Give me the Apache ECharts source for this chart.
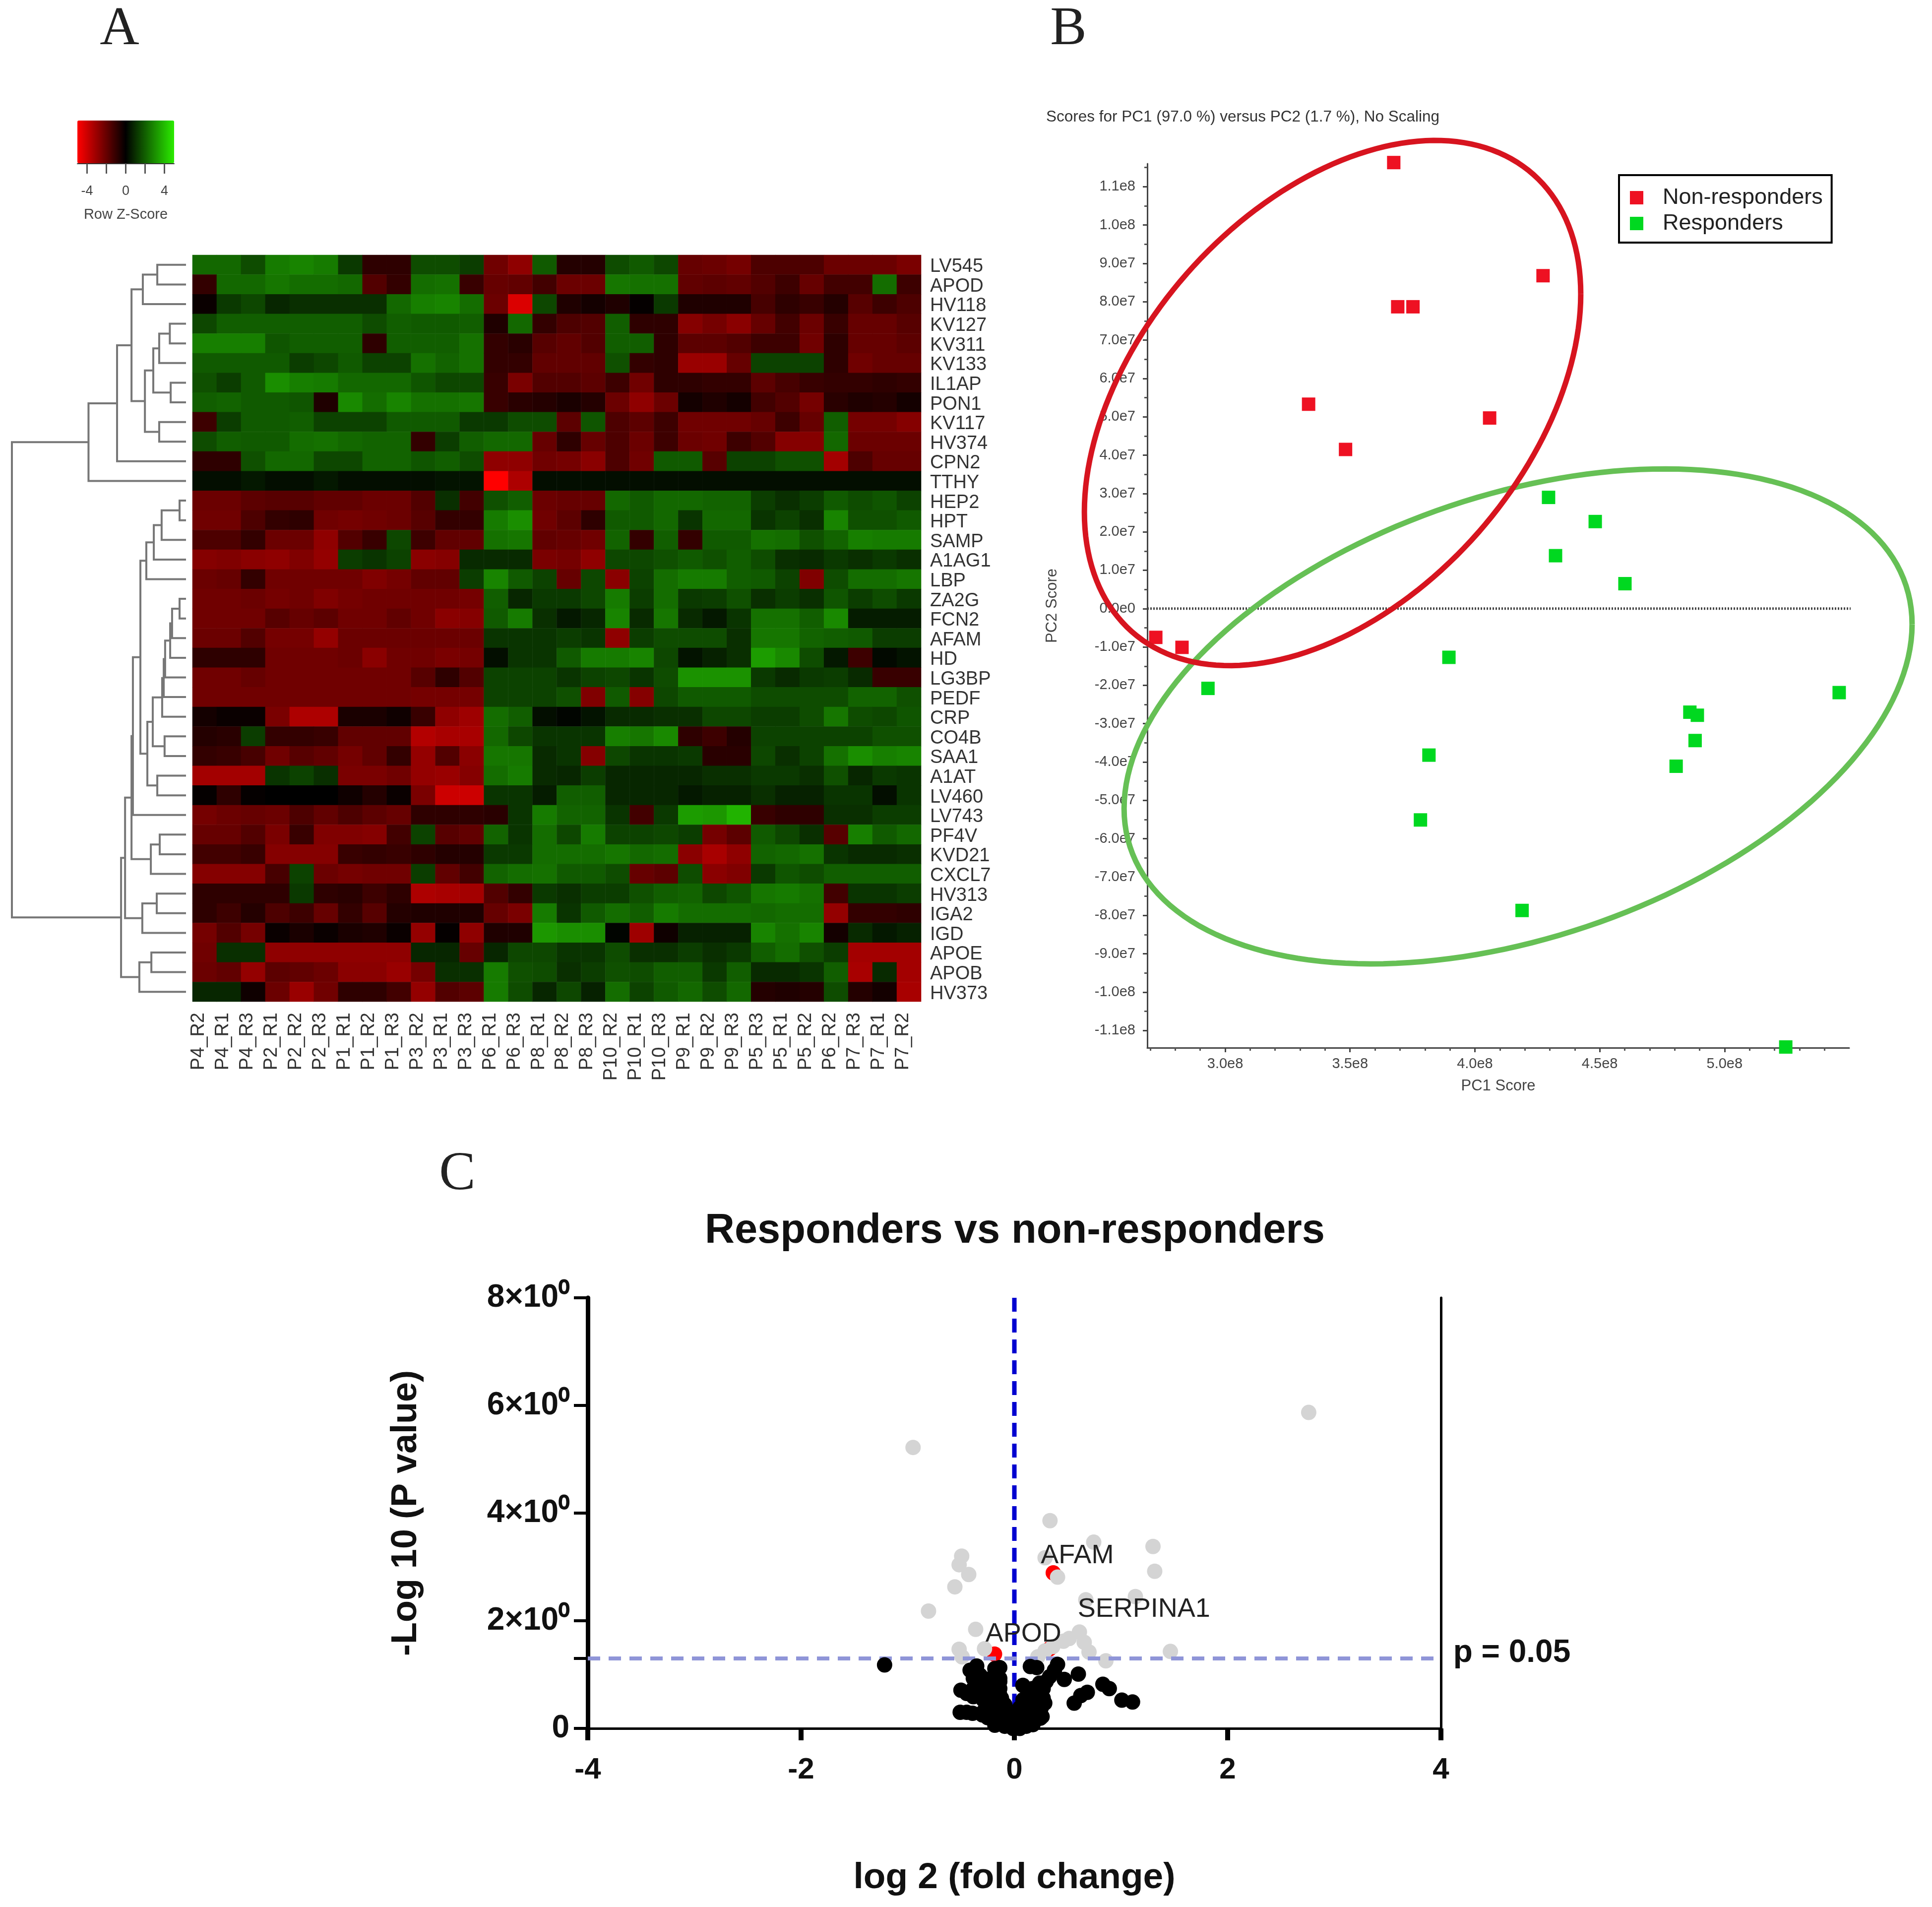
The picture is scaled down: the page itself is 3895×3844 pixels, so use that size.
<!DOCTYPE html>
<html>
<head>
<meta charset="utf-8">
<style>
  html, body { margin: 0; background: #fff; }
  #main { width: 3895px; height: 3844px; }
</style>
<script src="https://cdn.jsdelivr.net/npm/echarts@6/dist/echarts.min.js"></script>
</head>
<body>
<div id="main"></div>
<script>
// panel A
const samples = ["P4_R2","P4_R1","P4_R3","P2_R1","P2_R2","P2_R3","P1_R1","P1_R2","P1_R3","P3_R2","P3_R1","P3_R3","P6_R1","P6_R3","P8_R1","P8_R2","P8_R3","P10_R2","P10_R1","P10_R3","P9_R1","P9_R2","P9_R3","P5_R3","P5_R1","P5_R2","P6_R2","P7_R3","P7_R1","P7_R2"];
const proteins = ["LV545","APOD","HV118","KV127","KV311","KV133","IL1AP","PON1","KV117","HV374","CPN2","TTHY","HEP2","HPT","SAMP","A1AG1","LBP","ZA2G","FCN2","AFAM","HD","LG3BP","PEDF","CRP","CO4B","SAA1","A1AT","LV460","LV743","PF4V","KVD21","CXCL7","HV313","IGA2","IGD","APOE","APOB","HV373"];
const zScores = [
  [2.2,2.2,1.6,2.6,2.8,2.6,1.2,-.9,-.9,1.6,1.6,1.3,-2.2,-2.8,1.9,-.7,-.7,1.6,1.9,1.5,-2,-2.1,-2.3,-1.5,-1.5,-1.5,-2.1,-2.1,-2.1,-2.4],
  [-1,2.2,2.2,2.5,2.3,2.3,2.2,-1.6,-1,2.3,2.4,-1.1,-2,-1.9,-1.3,-2.1,-2.1,2.5,2.4,2.4,-1.9,-1.8,-1.9,-1.6,-1.2,-2,-1.3,-1.3,2.3,-1.2],
  [-.2,1.2,1.5,.8,1,1,1,1,2.2,2.7,2.8,2.3,-2.1,-4.3,1.5,-.6,-.4,-.6,-.1,1.2,-.6,-.6,-.6,-1.4,-.9,-1.1,-.7,-1.7,-1.2,-1.5],
  [1.5,2,2,2,2,2,2,1.6,2,1.9,1.9,2,-.6,2.2,-1,-1.5,-1.6,2,-.9,-.9,-2.6,-2.3,-2.7,-2,-1.3,-2.1,-1.1,-2,-2,-1.7],
  [2.7,2.7,2.7,1.8,2,2,2,-.9,2,2,2,2.4,-1,-.8,-1.7,-1.9,-1.6,2,2,-.9,-1.8,-1.8,-1.6,-1.2,-1.2,-2.2,-.9,-2,-2,-1.8],
  [1.9,1.9,1.9,1.9,1.3,1.5,1.9,1.4,1.4,2.4,2.1,2.4,-1,-1,-1.9,-1.9,-1.9,1.7,-1,-.9,-3,-3,-2,1.4,1.4,1.4,-.9,-2.2,-2,-2],
  [1.7,1.3,1.9,3,2.7,2.6,2.2,2.2,2.2,1.8,1.5,1.5,-1.1,-2.4,-1.6,-1.6,-1.8,-1.2,-2.2,-.9,-.9,-1,-1,-1.8,-1.4,-1.1,-1,-1,-.9,-1],
  [2,2.1,1.9,1.9,1.8,-.6,2.9,2.3,2.8,2.4,2.4,2.5,-1.1,-.8,-.7,-.5,-.7,-2.1,-2.8,-2.1,-.4,-.6,-.4,-1.3,-1.6,-2.3,-.8,-.6,-.7,-.4],
  [-1.2,1.3,1.9,1.9,2,1.4,1.4,1.4,1.9,1.9,1.9,1.2,1.2,1.6,1.6,-1.8,1.8,-1.5,-1.8,-1.2,-2.2,-2.2,-2.2,-2,-1.2,-2,2,-2.3,-2.3,-2.6],
  [1.6,2,1.9,1.9,2.3,2.4,2.2,2.1,2.1,-1,1.3,2,2.2,2.2,-2,-.9,-2,-1.5,-2.1,-1.2,-2.1,-2.2,-1.2,-1.6,-2.6,-2.6,2.2,-2.1,-2.1,-2.1],
  [-.9,-.9,1.7,2.2,2.2,1.5,1.5,2.1,2.1,1.8,2,1.6,-2.8,-2.8,-2.2,-2.3,-2.7,-1.5,-2.2,1.9,1.9,-1.7,1.4,1.4,1.7,1.7,-3.2,-1.5,-2,-2],
  [.3,.3,.5,.3,.3,.5,.3,.3,.3,.3,.4,.4,-5,-3.4,.3,.3,.3,.3,.3,.3,.3,.3,.3,.3,.3,.3,.3,.3,.3,.3],
  [-2.1,-2.1,-1.8,-1.7,-1.7,-1.9,-1.9,-2.1,-2.1,-1.6,1,-1.3,1.7,2,-2.1,-2,-2,2.2,1.9,2.2,2.2,2.1,2.1,1.3,1,1.3,1.9,1.6,1.8,1.4],
  [-2.2,-2.2,-1.5,-1,-.9,-2.2,-2.3,-2.2,-2.1,-1.7,-1,-1,2.6,3,-2.2,-1.8,-.9,1.9,1.9,2.2,1.1,2.2,2.2,1.1,1.4,1,2.8,1.7,1.7,1.9],
  [-1.5,-1.5,-1,-2.1,-2.1,-2.8,-1.6,-1.1,1.5,-1.2,-1.9,-1.9,2.4,2.5,-1.9,-2,-2.2,2.1,-1,2,-1,1.9,1.9,2.4,2.3,1.7,2.1,2.7,2.6,2.6],
  [-2.6,-2.5,-2.7,-2.8,-2.5,-2.9,1.3,1.1,1.4,-2.7,-2.6,.9,.9,.9,-2.4,-2.3,-2.8,1.5,1.5,1.7,1.9,1.7,2,1.6,1,.9,1.2,1,1.2,1],
  [-2.1,-2,-1,-2.2,-2.2,-2.2,-2.2,-2.5,-2.3,-1.9,-1.9,1.3,2.8,1.9,1.4,-2,1.5,-2.7,1.4,2.3,2.6,2.6,2,1.9,1.4,-2.5,1.6,2.3,2.3,2.5],
  [-2.2,-2.2,-2.1,-2.3,-2.2,-2.5,-2.3,-2.2,-2.2,-2.2,-2.2,-2.3,2,.8,1.2,1.2,1.5,2.6,1.3,2.3,1.2,1.3,1.7,1,1.3,1,1.8,1.3,1.6,1.2],
  [-2.2,-2.2,-2.2,-1.7,-2,-1.8,-2.2,-2.2,-1.9,-2.2,-2.7,-2.6,1.9,2.6,1,.5,.8,2.8,.9,2.5,.9,.5,1.1,2.4,2.4,2,2.9,.6,.6,.6],
  [-2.1,-2.1,-1.6,-2.3,-2.3,-2.9,-2.1,-2.1,-2.1,-2.1,-2.1,-2.1,1.1,1.1,1.1,1.3,1.1,-2.8,1.3,1.6,1.6,1.6,1,2.5,2.5,2.1,2,1.9,1.3,1.3],
  [-.9,-.9,-.9,-2.2,-2.2,-2.2,-2.1,-2.7,-2.2,-2.2,-2.4,-2.3,.3,1.1,1.1,1.9,2.6,2.6,2.8,1.5,.4,.7,1,3.3,2.9,1.6,.5,-1.2,.2,.4],
  [-2.2,-2.2,-2,-2.2,-2.2,-2.2,-2.2,-2.2,-2.2,-1.7,-.9,-1.6,1.4,1.4,1.4,1.1,1.4,1.5,1.1,1.6,3.1,3.1,3.1,1.2,.9,1.2,1.3,.9,-1.1,-1.1],
  [-2.2,-2.2,-2.2,-2.2,-2.2,-2.2,-2.2,-2.2,-2.2,-2.3,-2.3,-2.3,1.4,1.4,1.4,1.7,-2.5,1.9,-2.6,1.5,1.9,1.9,1.9,1.6,1.6,1.6,1.6,2.1,2.1,1.7],
  [-.4,-.2,-.2,-2.4,-3.4,-3.4,-.5,-.5,-.3,-1.1,-2.8,-3.1,2.3,2,.3,.1,.4,.9,.9,1,1,1.5,1.5,1.3,1.3,1.6,2.5,1.6,1.5,1.8],
  [-.7,-.8,1.3,-1,-1,-1.1,-1.9,-1.9,-1.9,-3.5,-3.3,-3.3,2.2,1.5,1.1,1.1,1.1,2.7,2.5,2.9,-.9,-1.2,-.7,1.4,1.4,1.4,1.4,1.4,1.7,1.7],
  [-1,-1.1,-1.4,-2.2,-1.7,-1.9,-2.3,-1.9,-1,-2.9,-1.6,-2.7,2.5,2.5,.9,1.1,-2.6,1.5,1.1,1.1,1.2,-.8,-.8,1.5,1,1.4,2.4,3,2.7,2.8],
  [-3.2,-3.2,-3.2,1.1,1.4,1,-2.4,-2.4,-2.2,-2.9,-3,-2.6,2.3,2.6,.9,.8,1.3,.8,.8,.8,.8,1,1,1.2,1.2,1,1.7,.8,1.2,1.1],
  [-.1,-.9,-.1,0,0,0,-.3,-.7,-.2,-2.4,-4,-4,1.1,1.1,.6,2,2,.8,.8,.8,.5,.7,.7,1,.7,.7,1.1,1.1,.3,1.1],
  [-2.3,-2.1,-2,-2.1,-1.5,-1.9,-1.5,-1.8,-2,-.9,-.9,-.9,-.8,1.1,2.6,2.1,2.1,1.1,-1.3,1.2,3.3,3.2,3.8,-1.1,-.9,-.9,1,1,1.3,1.3],
  [-2,-2,-1.6,-2.4,-1.1,-2.5,-2.5,-2.6,-1.3,1.4,-1.7,-1.9,2.1,1.1,2.3,1.5,2.6,1.4,1.4,1.5,1.3,-2.3,-1.8,1.9,1.5,1,-1.7,2.7,1.9,2.2],
  [-1.3,-1.3,-1.1,-2.6,-2.6,-2.6,-1.1,-1,-1.1,-.9,-.7,-.7,1.2,1.2,2.3,2.3,2.3,2.5,2.2,2.3,-2.7,-3.3,-2.8,2.1,2.2,2.4,1.1,.9,.9,1],
  [-2.6,-2.6,-2.6,-1.4,1.4,-2.1,-2.3,-2.2,-2.2,1.3,-1.9,-1.3,2.1,2.3,2.4,1.9,1.9,1.6,-2,-1.8,1.6,-2.7,-2.5,1.2,1.8,1.6,2,2,2,2],
  [-.9,-.9,-.9,-.9,1.2,-.9,-.8,-1.2,-.9,-3.4,-3.3,-3.2,-1.6,-1,1.2,1,1.3,1.3,1.7,2,2.1,1.5,1.8,2.5,2.6,2.4,-1.3,1.1,1.1,1.3],
  [-.9,-1.2,-.7,-1.5,-1.2,-2,-1,-1.7,-.7,-.6,-.6,-.6,-2,-2.4,2.6,1.1,1.9,2.3,2,2.6,2.3,2.3,2.3,2.2,2.3,2.3,-2.9,-1,-1,-.9],
  [-2.3,-1.6,-2.3,-.2,-.5,-.2,-.5,-.6,-.2,-2.9,-.1,-2.8,-.6,-.6,3.2,3,3,.1,-3.1,-.3,.7,.7,.7,2.8,2.4,2.8,-.4,.9,.5,.7],
  [-2.2,1,1,-2.8,-2.8,-2.8,-2.8,-2.8,-2.8,.8,.8,-2,.8,1.5,1.5,1.1,1.1,1.6,1,1,1.3,1,1.2,2,2.3,1.7,1.3,-3.2,-3.2,-3.2],
  [-2.1,-1.9,-2.9,-1.8,-1.9,-2.1,-2.7,-2.7,-3,-2.3,1,1,2.6,1.7,1.6,1,1.3,1.7,1.6,2,2,1.2,2,.9,.9,1.1,2,-3.3,.9,-3.2],
  [.8,.8,-.3,-2.1,-3,-2.2,-.9,-.9,-1.3,-2.9,-1.6,-1.8,2.6,1.6,.8,1.5,.7,2.3,1.4,1.9,2.2,1.6,2.2,-.7,-.6,-.7,1.6,-.7,-.4,-3.3]
];
// [childA, childB, height]; a child >= 0 is a row, "m3" is an earlier merge
const merges = [
  [0,1,16.5],["m0",2,24.8],[3,4,9.3],["m2",5,15.4],[6,7,8.8],["m3","m4",18.8],[8,9,15.4],["m5","m6",23.6],["m1","m7",31.3],["m8",10,39.6],["m9",11,56],
  [12,13,3.7],["m11",14,14],["m12",15,18.5],["m13",16,22.8],
  [17,18,3.7],["m15",19,8],["m16",20,9.1],["m17",21,12],["m18",22,12.8],["m19",23,13.7],[24,25,12.3],["m20","m21",19.1],[26,27,16.5],["m22","m23",22.2],
  ["m14","m24",26.2],["m25",28,30.5],[29,30,15.1],["m27",31,20.2],["m26","m28",31.3],[32,33,16.8],["m30",34,25.1],["m29","m31",35],[35,36,19.9],["m33",37,26.8],["m32","m34",37.3],["m10","m35",100]
];
const zScaleTicks = [-4, -2, 0, 2, 4];
const zScaleLabels = [-4, 0, 4];

// panel B
const nonResponders = [[367.5e6,11.63e7],[427.3e6,8.68e7],[369.1e6,7.87e7],[375.2e6,7.87e7],[333.4e6,5.33e7],[405.9e6,4.97e7],[348.2e6,4.15e7],[272.2e6,-0.75e7],[282.7e6,-1.01e7]];
const responders = [[429.5e6,2.9e7],[448.2e6,2.27e7],[432.3e6,1.38e7],[460.1e6,0.65e7],[389.6e6,-1.27e7],[293.1e6,-2.08e7],[545.9e6,-2.19e7],[486.1e6,-2.7e7],[489.1e6,-2.78e7],[488.2e6,-3.44e7],[381.6e6,-3.82e7],[480.6e6,-4.11e7],[378.2e6,-5.51e7],[418.9e6,-7.87e7],[524.5e6,-11.43e7]];
const pc1Ticks = [3e8, 3.5e8, 4e8, 4.5e8, 5e8];
const pc2Ticks = [11e7,10e7,9e7,8e7,7e7,6e7,5e7,4e7,3e7,2e7,1e7,0,-1e7,-2e7,-3e7,-4e7,-5e7,-6e7,-7e7,-8e7,-9e7,-10e7,-11e7];
const pc1Minor = [2.7e8,2.8e8,2.9e8,3.1e8,3.2e8,3.3e8,3.4e8,3.6e8,3.7e8,3.8e8,3.9e8,4.1e8,4.2e8,4.3e8,4.4e8,4.6e8,4.7e8,4.8e8,4.9e8,5.1e8,5.2e8,5.3e8,5.4e8];
const pc2Minor = pc2Ticks.map(v => v + 0.5e7);
const zeroLine = [[268.8e6, 0], [564.2e6, 0]];
// hand drawn rings: centre and two conjugate half axes, in score units
const rings = [
  { color: "#66c055", c: [417.3e6, -2.81e7], a: [157.8e6, 2.4e7], b: [0, 5.99e7] },
  { color: "#d7141f", c: [343e6, 5.36e7], a: [99.4e6, 2.84e7], b: [0, 6.23e7] }
];

// panel C
const notSignificantBelow = [[-1.217,1.18],[.15,1.15],[.21,1.13],[.405,1.19],[.6,1.01],[.468,.91],[.83,.82],[.89,.74],[.561,.47],[.623,.61],[.684,.67],[1.008,.525],[1.108,.49],
  [-.415,1.08],[-.353,1.16],[-.323,.99],[-.385,.93],[-.183,1.11],[-.137,1.13],[-.214,.93],[-.137,.93],[-.229,.74],[-.137,.74],[-.291,.74],[-.501,.71],[-.447,.65],[-.385,.59],[-.291,.53],[-.198,.56],[-.121,.56],[-.261,.38],[-.183,.38],[-.09,.44],[-.508,.3],[-.392,.28],[-.447,.3],[-.198,.16],[-.137,.13],[-.183,.06],[-.06,.25],[0,.07],[0,0],[-.1,.06],[-.05,.12],[-.25,.2],[-.3,.25],
  [.08,.8],[.17,.74],[.11,.46],[.27,.56],[.27,.74],[.33,.96],[.376,1.08],[.285,.47],[.17,.31],[.09,.16],[.2,.16],[.05,.37],[.14,.56],[.236,.31],[.1,.07],[.05,.03],[.16,.09],[.26,.22],
  [-.323,.87],[-.385,.74],[-.291,.93],[-.353,.93],[-.261,.81],[-.198,.74],[-.137,.62],[-.106,.44],[-.167,.56],[-.229,.5],[-.291,.31],[-.229,.25],[-.167,.25],[-.106,.25],[-.043,.13],[-.121,.1],[-.183,.1],[-.09,.04],
  [.081,.53],[.143,.68],[.205,.62],[.236,.84],[.112,.38],[.174,.44],[.251,.38],[.275,.47],[.244,.19],[.174,.07],[.112,.04],[.05,0],[-.012,0],[.112,.19],[.019,.22],[.05,.38],[-.043,.31],[.298,.87],[-.137,.87]];
const significant = [[-.95,5.22],[2.76,5.87],[.334,3.86],[.744,3.46],[1.3,3.38],[1.316,2.92],[-.494,3.2],[-.518,3.04],[-.428,2.86],[-.558,2.63],[-.805,2.18],[.288,3.17],[.405,2.81],[.67,2.39],[1.135,2.45],[-.363,1.84],[-.518,1.47],[-.49,1.33],[-.28,1.48],[.288,1.44],[.36,1.52],[.22,1.33],[.514,1.67],[.61,1.79],[.655,1.6],[.7,1.42],[.858,1.255],[1.463,1.43],[.46,1.62]];
const highlighted = [[.365,2.89],[-.186,1.38],[.33,1.48]];
const proteinLabels = [["AFAM",.59,3.21],["SERPINA1",1.215,2.21],["APOD",.085,1.75]];
const thresholdP = [[-4,1.3],[4,1.3]];
const thresholdFold = [[0,0],[0,8]];
const pLabel = [["p = 0.05",4.665,1.4]];
const logPTicks = [0,2,4,6,8];

const FONT = "'Liberation Sans', Arial, sans-serif";
const SERIF = "'Liberation Serif', serif";

// row midpoints and heights of the tree
function treeSegments() {
  const nodes = [];
  const pick = c => (typeof c === "number" ? { y: c + 0.5, h: 0 } : nodes[+c.slice(1)]);
  return merges.map(m => {
    const a = pick(m[0]), b = pick(m[1]);
    nodes.push({ y: (a.y + b.y) / 2, h: m[2] });
    return [a.h, a.y, b.h, b.y, m[2]];
  });
}

const heatData = [];
zScores.forEach((row, r) => row.forEach((z, c) => heatData.push([c, r, z])));

function sciLabel(v) {
  return v.toExponential(1).replace("+", "");
}

const option = {
  animation: false,
  backgroundColor: "#fff",
  textStyle: { fontFamily: FONT },
  title: [
    { text: "Scores for PC1 (97.0 %) versus PC2 (1.7 %), No Scaling", left: 2104, top: 215, textStyle: { fontSize: 31.5, fontWeight: "normal", color: "#333", fontFamily: FONT } },
    { text: "Responders vs non-responders", left: 1416, top: 2436, textStyle: { fontSize: 83, fontWeight: "bold", color: "#111", fontFamily: FONT } }
  ],
  graphic: [
    { type: "text", x: 241, y: 60, style: { text: "A", font: "110px " + SERIF, fill: "#222", textAlign: "center", textVerticalAlign: "middle" } },
    { type: "text", x: 2154, y: 60, style: { text: "B", font: "110px " + SERIF, fill: "#222", textAlign: "center", textVerticalAlign: "middle" } },
    { type: "text", x: 922, y: 2368, style: { text: "C", font: "110px " + SERIF, fill: "#222", textAlign: "center", textVerticalAlign: "middle" } }
  ],
  legend: {
    data: ["Non-responders", "Responders"],
    orient: "vertical", left: 3264, top: 353,
    padding: [23, 18, 16, 22], itemGap: 7, itemWidth: 27, itemHeight: 27,
    borderColor: "#000", borderWidth: 4, icon: "rect",
    textStyle: { fontSize: 45, color: "#222", fontFamily: FONT, padding: [0, 0, 0, 34] }
  },
  visualMap: {
    type: "continuous", seriesIndex: 1, min: -5, max: 5, orient: "horizontal",
    left: 156, top: 243, itemWidth: 86, itemHeight: 195, text: null, padding: 0,
    calculable: false, hoverLink: false, showLabel: false,
    inRange: { color: ["#ff0000", "#000000", "#2bec00"] }
  },
  grid: [
    { left: 24, top: 514, width: 351, height: 1505 },
    { left: 388, top: 514, width: 1469, height: 1505 },
    { left: 156, top: 329, width: 195, height: 1 },
    { left: 2313, top: 330, width: 1415, height: 1782 },
    { left: 1185, top: 2616, width: 1720, height: 868 },
    // carries only the heatmap's text, which sits a little off the cell centres
    { left: 376, top: 518, width: 1469, height: 1505 }
  ],
  xAxis: [
    { gridIndex: 0, type: "value", min: 0, max: 100, inverse: true, show: false },
    { gridIndex: 1, type: "category", data: samples, show: false },
    { gridIndex: 2, type: "value", min: -5, max: 5,
      axisLine: { lineStyle: { color: "#333", width: 2 } },
      axisTick: { customValues: zScaleTicks, length: 20, lineStyle: { color: "#555", width: 3 } },
      axisLabel: { customValues: zScaleLabels, margin: 42, fontSize: 27, color: "#444" },
      splitLine: { show: false },
      name: "Row Z-Score", nameLocation: "middle", nameGap: 88, nameTextStyle: { fontSize: 29, color: "#444" } },
    { gridIndex: 3, type: "value", position: "bottom", min: 268.8e6, max: 549.9e6, splitLine: { show: false },
      axisLine: { onZero: false, lineStyle: { color: "#444", width: 3 } },
      axisTick: { customValues: pc1Ticks, length: 9, lineStyle: { color: "#444", width: 3 } },
      axisLabel: { customValues: pc1Ticks, formatter: sciLabel, margin: 18, fontSize: 29, color: "#444" },
      name: "PC1 Score", nameLocation: "middle", nameGap: 62, nameTextStyle: { fontSize: 31, color: "#444" } },
    { gridIndex: 3, type: "value", position: "bottom", min: 268.8e6, max: 549.9e6, splitLine: { show: false },
      axisLine: { show: false, onZero: false },
      axisTick: { customValues: pc1Minor, length: 6, lineStyle: { color: "#555", width: 3 } },
      axisLabel: { show: false } },
    { gridIndex: 4, type: "value", min: -4, max: 4, interval: 2, splitLine: { show: false },
      axisLine: { onZero: false, lineStyle: { color: "#000", width: 5 } },
      axisTick: { length: 24, lineStyle: { color: "#000", width: 10 } },
      axisLabel: { margin: 54, fontSize: 60, fontWeight: "bold", color: "#111" },
      name: "log 2 (fold change)", nameLocation: "middle", nameGap: 265, nameTextStyle: { fontSize: 73, fontWeight: "bold", color: "#111" } },
    { gridIndex: 5, type: "category", data: samples, axisLine: { show: false }, axisTick: { show: false },
      axisLabel: { interval: 0, rotate: 90, margin: 18, fontSize: 38, color: "#333" } }
  ],
  yAxis: [
    { gridIndex: 0, type: "value", min: 0, max: 38, inverse: true, show: false },
    { gridIndex: 1, type: "category", data: proteins, inverse: true, show: false },
    { gridIndex: 2, type: "value", show: false },
    { gridIndex: 3, type: "value", min: -11.45e7, max: 11.6e7, splitLine: { show: false },
      axisLine: { onZero: false, lineStyle: { color: "#444", width: 3 } },
      axisTick: { customValues: pc2Ticks, length: 9, lineStyle: { color: "#444", width: 3 } },
      axisLabel: { customValues: pc2Ticks, formatter: sciLabel, margin: 24, fontSize: 29, color: "#444" },
      name: "PC2 Score", nameLocation: "middle", nameRotate: 90, nameGap: 176, nameTextStyle: { fontSize: 31, color: "#444" } },
    { gridIndex: 3, type: "value", min: -11.45e7, max: 11.6e7, position: "left", splitLine: { show: false },
      axisLine: { show: false, onZero: false },
      axisTick: { customValues: pc2Minor, length: 6, lineStyle: { color: "#555", width: 3 } },
      axisLabel: { show: false } },
    { gridIndex: 4, type: "value", min: 0, max: 8, position: "left", splitLine: { show: false },
      axisLine: { onZero: false, lineStyle: { color: "#000", width: 9 } },
      axisTick: { customValues: logPTicks.concat(1.3), length: 28, lineStyle: { color: "#000", width: 6 } },
      axisLabel: { customValues: logPTicks, margin: 37, fontSize: 64, fontWeight: "bold", color: "#111",
        formatter: v => (v === 0 ? "0" : v + "×10⁰") },
      name: "-Log 10 (P value)", nameLocation: "middle", nameRotate: 90, nameGap: 330, nameTextStyle: { fontSize: 72, fontWeight: "bold", color: "#111" } },
    { gridIndex: 4, type: "value", min: 0, max: 8, position: "right", splitLine: { show: false },
      axisLine: { show: true, onZero: false, lineStyle: { color: "#000", width: 5 } },
      axisTick: { show: false }, axisLabel: { show: false } },
    { gridIndex: 5, type: "category", data: proteins, inverse: true, position: "right",
      axisLine: { show: false }, axisTick: { show: false },
      axisLabel: { interval: 0, margin: 30, fontSize: 38, color: "#333" } }
  ],
  series: [
    {
      type: "custom", xAxisIndex: 0, yAxisIndex: 0, data: treeSegments(), clip: false, silent: true,
      renderItem: (params, api) => {
        const ha = api.value(0), ya = api.value(1), hb = api.value(2), yb = api.value(3), h = api.value(4);
        return {
          type: "polyline",
          shape: { points: [api.coord([ha, ya]), api.coord([h, ya]), api.coord([h, yb]), api.coord([hb, yb])] },
          style: { fill: null, stroke: "#777", lineWidth: 4 }
        };
      }
    },
    { type: "heatmap", xAxisIndex: 1, yAxisIndex: 1, data: heatData, progressive: 0, silent: true },
    {
      type: "custom", xAxisIndex: 3, yAxisIndex: 3, data: rings.map((r, i) => [i]), clip: false, silent: true, z: 5,
      renderItem: (params, api) => {
        const r = rings[api.value(0)];
        const points = [];
        for (let i = 0; i <= 180; i++) {
          const t = i / 180 * 2 * Math.PI;
          points.push(api.coord([
            r.c[0] + r.a[0] * Math.cos(t) + r.b[0] * Math.sin(t),
            r.c[1] + r.a[1] * Math.cos(t) + r.b[1] * Math.sin(t)
          ]));
        }
        return { type: "polyline", shape: { points }, style: { fill: null, stroke: r.color, lineWidth: 11 } };
      }
    },
    { type: "line", xAxisIndex: 3, yAxisIndex: 3, data: zeroLine, showSymbol: false, clip: false, silent: true, z: 3,
      lineStyle: { color: "#444", width: 5, type: [3, 3] } },
    { name: "Non-responders", type: "scatter", xAxisIndex: 3, yAxisIndex: 3, data: nonResponders, symbol: "rect", symbolSize: 27, clip: false, z: 4,
      itemStyle: { color: "#ee1122", opacity: 1 } },
    { name: "Responders", type: "scatter", xAxisIndex: 3, yAxisIndex: 3, data: responders, symbol: "rect", symbolSize: 27, z: 4,
      itemStyle: { color: "#00d820", opacity: 1 } },

    { type: "scatter", xAxisIndex: 5, yAxisIndex: 5, data: highlighted, symbolSize: 31, z: 3, itemStyle: { color: "#ff0000", opacity: 1 } },
    { type: "scatter", xAxisIndex: 5, yAxisIndex: 5, data: significant, symbolSize: 31, z: 4, itemStyle: { color: "#d4d4d4", opacity: 1 } },
    { type: "line", xAxisIndex: 5, yAxisIndex: 5, data: thresholdFold, showSymbol: false, silent: true, z: 5,
      lineStyle: { color: "#0000d0", width: 9, type: [28, 14] } },
    { type: "line", xAxisIndex: 5, yAxisIndex: 5, data: thresholdP, showSymbol: false, silent: true, z: 5,
      lineStyle: { color: "#8f95d8", width: 8, type: [25, 17] } },
    { type: "scatter", xAxisIndex: 5, yAxisIndex: 5, data: notSignificantBelow, symbolSize: 31, z: 6, itemStyle: { color: "#000", opacity: 1 } },
    { type: "scatter", xAxisIndex: 5, yAxisIndex: 5, symbolSize: 0, z: 7, clip: false, silent: true, itemStyle: { opacity: 1 },
      data: proteinLabels.map(d => ({ name: d[0], value: [d[1], d[2]] })),
      label: { show: true, position: "inside", formatter: "{b}", fontSize: 54, color: "#222", fontFamily: FONT } },
    { type: "scatter", xAxisIndex: 5, yAxisIndex: 5, symbolSize: 0, z: 7, clip: false, silent: true, itemStyle: { opacity: 1 },
      data: pLabel.map(d => ({ name: d[0], value: [d[1], d[2]] })),
      label: { show: true, position: "inside", formatter: "{b}", fontSize: 64, fontWeight: "bold", color: "#111", fontFamily: FONT } }
  ]
};

const chart = echarts.init(document.getElementById("main"));
chart.setOption(option);
</script>
</body>
</html>
